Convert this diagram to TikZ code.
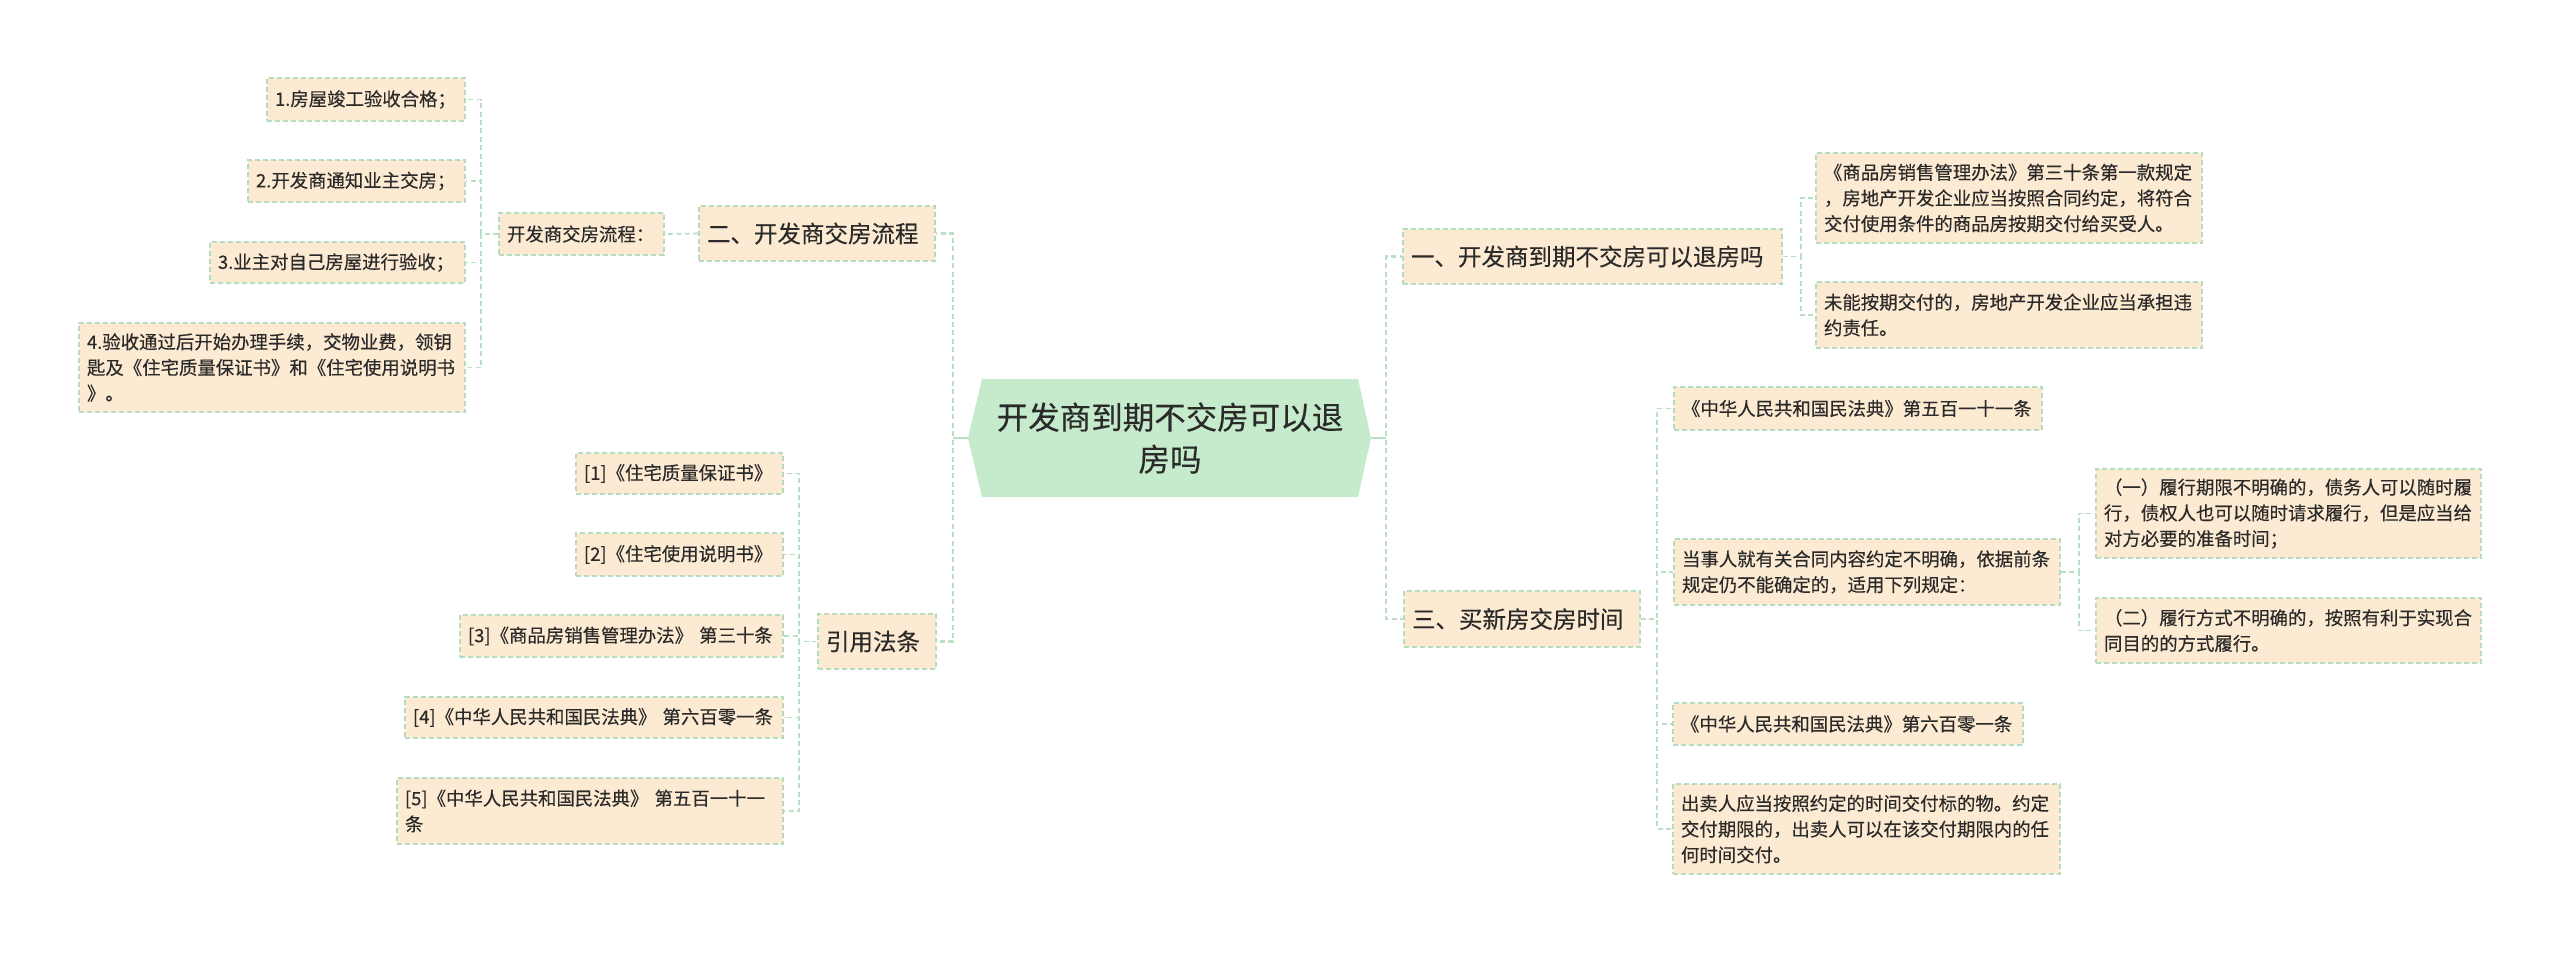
\documentclass[tikz,border=0pt]{standalone}
\usepackage{fontspec}
\setmainfont{Noto Sans CJK SC}[FakeBold=0.3]
\definecolor{boxfill}{HTML}{FDEAD2}
\definecolor{boxline}{HTML}{B5DCBF}
\definecolor{connc}{HTML}{BADFC3}
\definecolor{rootfill}{HTML}{C6EBCC}
\definecolor{txt}{HTML}{2A2A2A}
\tikzset{
  leaf/.style={fill=boxfill, draw=boxline, line width=0.8pt, dash pattern=on 2.5pt off 1.5pt,
    inner xsep=4pt, inner ysep=0pt, align=left, text=txt, font=\fontsize{9.2}{12.85}\selectfont},
  branch/.style={leaf, font=\fontsize{11.75}{15}\selectfont},
  link/.style={draw=connc, line width=0.85pt, dash pattern=on 2.5pt off 1.7pt},
  mainlink/.style={draw=connc, line width=1.2pt, dash pattern=on 2.5pt off 1.7pt},
  stublink/.style={draw=connc, line width=1.2pt},
}
\newcommand\mkbox[7]{%
  \pgfmathsetmacro\mkX{(#3+#5)/2}\pgfmathsetmacro\mkY{(#4+#6)/2}%
  \pgfmathsetmacro\mkW{(#5-#3-16)*0.5}\pgfmathsetmacro\mkH{(#6-#4)*0.5}%
  \node[#1, text width=\mkW pt, minimum height=\mkH pt] (#2) at (\mkX,\mkY) {#7};}
\begin{document}
\begin{tikzpicture}[x=0.5pt,y=-0.5pt]
\fill[white] (0,0) rectangle (2560,953);
\useasboundingbox (0,0) rectangle (2560,953);

% root hexagon
\coordinate (rootL) at (968,438);
\coordinate (rootR) at (1371,438);
\fill[rootfill] (982,379) -- (1358,379) -- (rootR) -- (1358,497) -- (982,497) -- (rootL) -- cycle;
\node[align=center, text=txt, font=\fontsize{15.75}{21}\selectfont, text width=190pt] (root) at (1170,438)
  {开发商到期不交房可以退\\房吗};

% left: branch 二
\mkbox{leaf}{b1}{267}{78}{465}{121}{1.房屋竣工验收合格；}
\mkbox{leaf}{b2}{248}{160}{465}{202}{2.开发商通知业主交房；}
\mkbox{leaf}{b3}{210}{242}{465}{283}{3.业主对自己房屋进行验收；}
\mkbox{leaf}{b4}{79}{323}{465}{412}{4.验收通过后开始办理手续，交物业费，领钥\\匙及《住宅质量保证书》和《住宅使用说明书\\》。}
\mkbox{leaf}{flow}{499}{213}{664}{255}{开发商交房流程：}
\mkbox{branch}{er}{699}{206}{935}{261}{二、开发商交房流程}

% left: branch 引用法条
\mkbox{leaf}{r1}{576}{453}{783}{494}{[1]《住宅质量保证书》}
\mkbox{leaf}{r2}{576}{533}{783}{576}{[2]《住宅使用说明书》}
\mkbox{leaf}{r3}{460}{615}{783}{657}{[3]《商品房销售管理办法》 第三十条}
\mkbox{leaf}{r4}{405}{697}{783}{738}{[4]《中华人民共和国民法典》 第六百零一条}
\mkbox{leaf}{r5}{397}{778}{783}{844}{[5]《中华人民共和国民法典》 第五百一十一\\条}
\mkbox{branch}{yy}{818}{614}{936}{669}{引用法条}

% right: branch 一
\mkbox{branch}{one}{1403}{229}{1782}{284}{一、开发商到期不交房可以退房吗}
\mkbox{leaf}{a1}{1816}{153}{2202}{243}{《商品房销售管理办法》第三十条第一款规定\\，房地产开发企业应当按照合同约定，将符合\\交付使用条件的商品房按期交付给买受人。}
\mkbox{leaf}{a2}{1816}{282}{2202}{348}{未能按期交付的，房地产开发企业应当承担违\\约责任。}

% right: branch 三
\mkbox{branch}{three}{1404}{591}{1640}{647}{三、买新房交房时间}
\mkbox{leaf}{c1}{1674}{387}{2042}{430}{《中华人民共和国民法典》第五百一十一条}
\mkbox{leaf}{c2}{1674}{539}{2060}{605}{当事人就有关合同内容约定不明确，依据前条\\规定仍不能确定的，适用下列规定：}
\mkbox{leaf}{d1}{2096}{469}{2481}{558}{（一）履行期限不明确的，债务人可以随时履\\行，债权人也可以随时请求履行，但是应当给\\对方必要的准备时间；}
\mkbox{leaf}{d2}{2096}{598}{2481}{663}{（二）履行方式不明确的，按照有利于实现合\\同目的的方式履行。}
\mkbox{leaf}{c3}{1673}{703}{2023}{745}{《中华人民共和国民法典》第六百零一条}
\mkbox{leaf}{c4}{1673}{784}{2060}{874}{出卖人应当按照约定的时间交付标的物。约定\\交付期限的，出卖人可以在该交付期限内的任\\何时间交付。}

% main connectors
\draw[mainlink] (rootL) -- ++(-15,0) |- (er.east);
\draw[mainlink] (rootL) -- ++(-15,0) |- (yy.east);
\draw[mainlink] (rootR) -- ++(15,0) |- (one.west);
\draw[mainlink] (rootR) -- ++(15,0) |- (three.west);
\draw[stublink] (rootL) -- ++(-15,0);
\draw[stublink] (rootR) -- ++(15,0);

% sub connectors
\draw[link] (er.west) -- (flow.east);
\foreach \c in {b1,b2,b3,b4} \draw[link] (flow.west) -- ++(-17,0) |- (\c.east);
\foreach \c in {r1,r2,r3,r4,r5} \draw[link] (yy.west) -- ++(-18,0) |- (\c.east);
\foreach \c in {a1,a2} \draw[link] (one.east) -- ++(18,0) |- (\c.west);
\foreach \c in {c1,c2,c3,c4} \draw[link] (three.east) -- ++(16,0) |- (\c.west);
\foreach \c in {d1,d2} \draw[link] (c2.east) -- ++(18,0) |- (\c.west);
\end{tikzpicture}
\end{document}
